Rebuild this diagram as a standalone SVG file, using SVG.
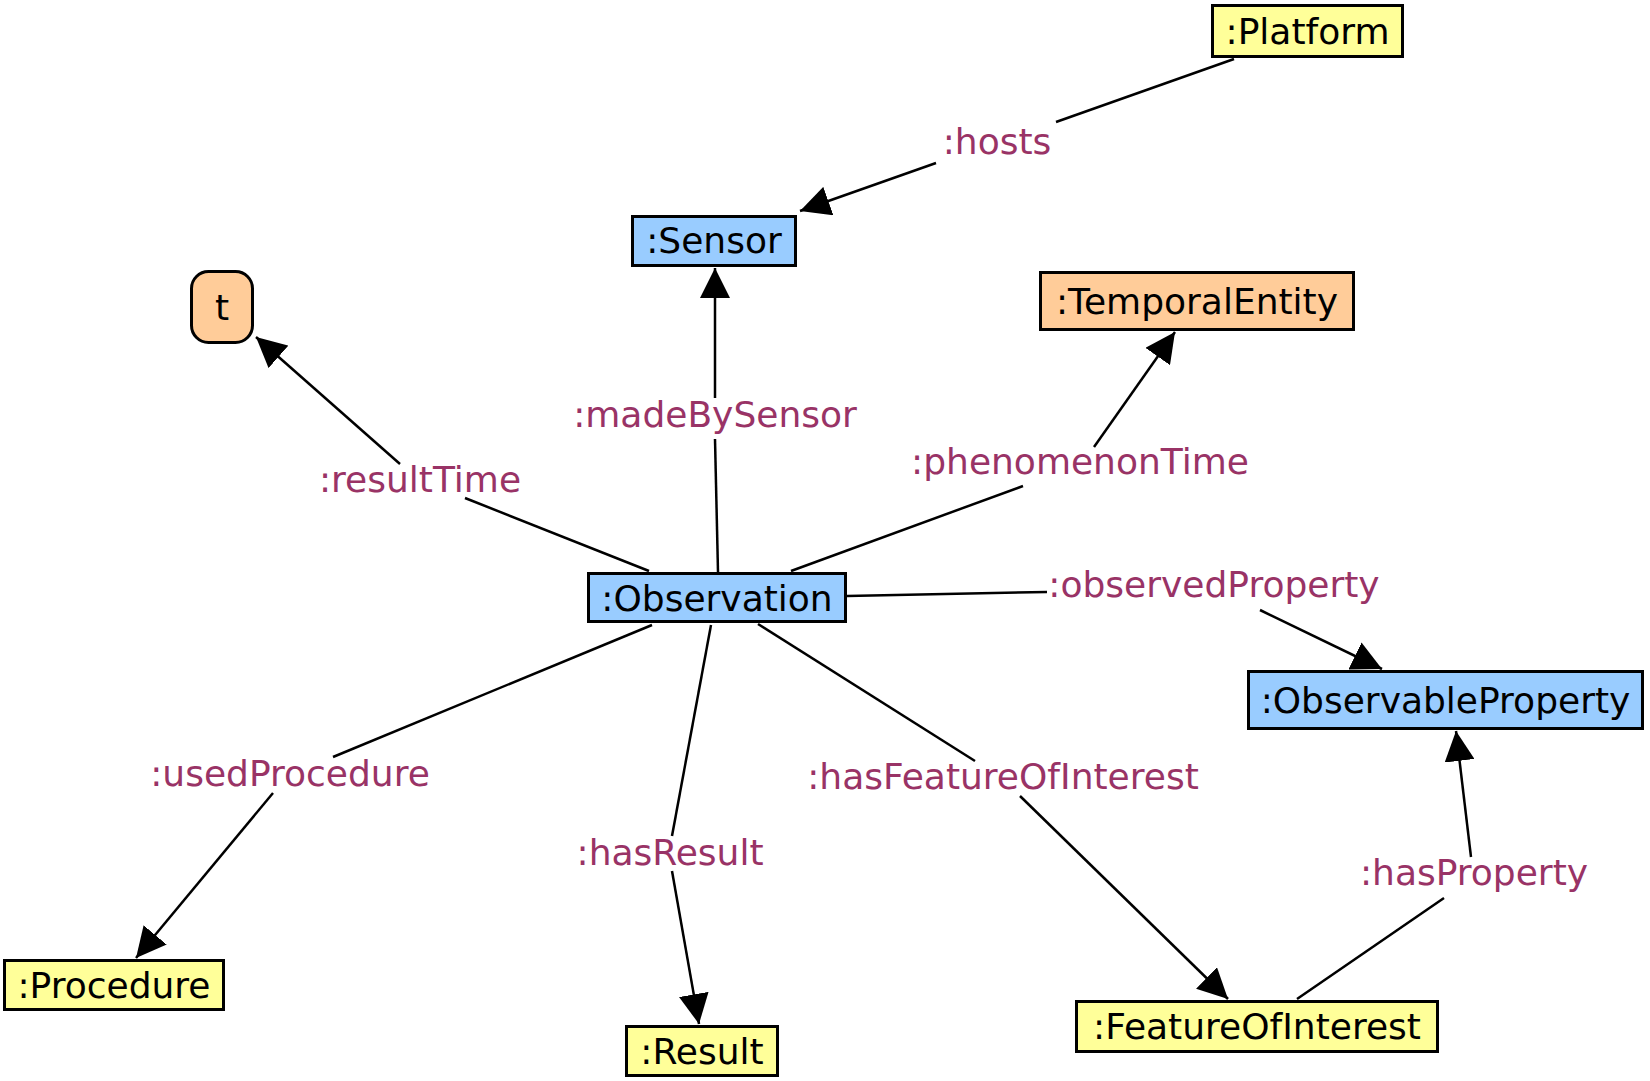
<svg xmlns="http://www.w3.org/2000/svg" width="1650" height="1081" viewBox="0 0 1650 1081">
<style>
.node rect{stroke:#000;stroke-width:3}
.blue rect{fill:#99ccff}
.yellow rect{fill:#ffff99}
.orange rect{fill:#ffcc99}
.node text{font-family:"DejaVu Sans",Verdana,sans-serif;font-size:36px;fill:#000;text-anchor:middle}
.edge line{stroke:#000;stroke-width:2.5;fill:none}
.lbl{font-family:"DejaVu Sans",Verdana,sans-serif;font-size:36px;fill:#993366;text-anchor:middle}
</style>
<defs>
<marker id="arr" markerUnits="userSpaceOnUse" markerWidth="30" markerHeight="30" viewBox="0 0 30 30" refX="30" refY="15" orient="auto">
<path d="M0,0 L30,15 L0,30 z" fill="#000"/>
</marker>
</defs>
<rect width="1650" height="1081" fill="#fff"/>
<g id="connectors">
<g class="edge" id="e-hosts"><line x1="1234" y1="59" x2="1056" y2="122"/><line x1="936" y1="163" x2="800" y2="211" marker-end="url(#arr)"/><text class="lbl" x="997" y="154">:hosts</text></g>
<g class="edge" id="e-madeBySensor"><line x1="718" y1="572" x2="715" y2="439"/><line x1="715" y1="398" x2="715" y2="268" marker-end="url(#arr)"/><text class="lbl" x="715" y="427">:madeBySensor</text></g>
<g class="edge" id="e-resultTime"><line x1="649" y1="571" x2="465" y2="498"/><line x1="400" y1="464" x2="256" y2="337" marker-end="url(#arr)"/><text class="lbl" x="420" y="492">:resultTime</text></g>
<g class="edge" id="e-phenomenonTime"><line x1="791" y1="571" x2="1023" y2="486"/><line x1="1094" y1="447" x2="1175" y2="332" marker-end="url(#arr)"/><text class="lbl" x="1080" y="474">:phenomenonTime</text></g>
<g class="edge" id="e-observedProperty"><line x1="847" y1="596" x2="1047" y2="592"/><line x1="1260" y1="610" x2="1382" y2="669" marker-end="url(#arr)"/><text class="lbl" x="1214" y="597">:observedProperty</text></g>
<g class="edge" id="e-usedProcedure"><line x1="652" y1="625" x2="333" y2="757"/><line x1="273" y1="793" x2="136" y2="958" marker-end="url(#arr)"/><text class="lbl" x="290" y="786">:usedProcedure</text></g>
<g class="edge" id="e-hasResult"><line x1="711" y1="625" x2="672" y2="836"/><line x1="672" y1="871" x2="699" y2="1024" marker-end="url(#arr)"/><text class="lbl" x="670" y="865">:hasResult</text></g>
<g class="edge" id="e-hasFeatureOfInterest"><line x1="758" y1="624" x2="975" y2="761"/><line x1="1020" y1="796" x2="1228" y2="999" marker-end="url(#arr)"/><text class="lbl" x="1003" y="789">:hasFeatureOfInterest</text></g>
<g class="edge" id="e-hasProperty"><line x1="1297" y1="999" x2="1444" y2="898"/><line x1="1471" y1="857" x2="1456" y2="731" marker-end="url(#arr)"/><text class="lbl" x="1474" y="885">:hasProperty</text></g>
</g>
<g id="n-platform" class="node yellow"><rect x="1212.5" y="5.5" width="190" height="51"/><text x="1307.5" y="43.5">:Platform</text></g>
<g id="n-sensor" class="node blue"><rect x="632.5" y="216.5" width="163" height="49"/><text x="714" y="253">:Sensor</text></g>
<g id="n-t" class="node orange"><rect x="191.5" y="271.5" width="61" height="71" rx="17"/><text x="222" y="320">t</text></g>
<g id="n-temporalEntity" class="node orange"><rect x="1040.5" y="272.5" width="313" height="57"/><text x="1197" y="313.5">:TemporalEntity</text></g>
<g id="n-observation" class="node blue"><rect x="588.5" y="573.5" width="257" height="48"/><text x="717" y="611">:Observation</text></g>
<g id="n-observableProperty" class="node blue"><rect x="1248.5" y="671.5" width="394" height="57"/><text x="1445.5" y="712.5">:ObservableProperty</text></g>
<g id="n-procedure" class="node yellow"><rect x="4.5" y="960.5" width="219" height="49"/><text x="114" y="997.5">:Procedure</text></g>
<g id="n-result" class="node yellow"><rect x="626.5" y="1026.5" width="151" height="49"/><text x="702" y="1063.5">:Result</text></g>
<g id="n-featureOfInterest" class="node yellow"><rect x="1076.5" y="1001.5" width="361" height="50"/><text x="1257" y="1039">:FeatureOfInterest</text></g>
</svg>
